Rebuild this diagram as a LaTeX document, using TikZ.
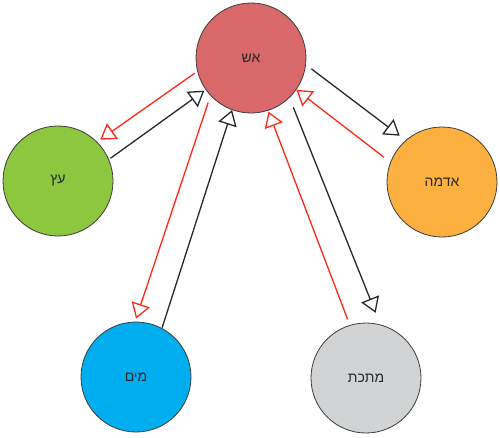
\documentclass[tikz,border=0pt]{standalone}
\usepackage{fontspec}
\TeXXeTstate=1
\newfontfamily\hebfont[Script=Hebrew]{Liberation Sans}
\usetikzlibrary{arrows.meta}
\definecolor{firec}{RGB}{217,104,107}
\definecolor{woodc}{RGB}{141,198,63}
\definecolor{earthc}{RGB}{251,176,64}
\definecolor{waterc}{RGB}{0,174,239}
\definecolor{metalc}{RGB}{209,211,212}
\definecolor{outl}{RGB}{60,60,60}
\definecolor{ctrlred}{RGB}{255,40,20}
\definecolor{gentxt}{RGB}{40,40,40}
\tikzset{
  elem/.style={circle, draw=outl, line width=0.8pt, minimum size=110pt, inner sep=0pt,
    font=\hebfont\fontsize{14}{16}\selectfont, text=gentxt},
  tipstyle/.style={-{Triangle[open, length=15pt, width=19pt, line width=1.3pt]}},
  genarrow/.style={tipstyle, draw=gentxt, line width=1.3pt},
  ctrlarrow/.style={tipstyle, draw=ctrlred, line width=1.3pt},
}
\begin{document}
\begin{tikzpicture}[x=1pt, y=-1pt]
\useasboundingbox (0,0) rectangle (500,437);
\node[elem, fill=firec]  (fire)  at (251,58)  {\beginR אש\endR};
\node[elem, fill=woodc]  (wood)  at (58,181)  {\beginR עץ\endR};
\node[elem, fill=earthc] (earth) at (442,182) {\beginR אדמה\endR};
\node[elem, fill=waterc] (water) at (136,377) {\beginR מים\endR};
\node[elem, fill=metalc] (metal) at (366,378) {\beginR מתכת\endR};

\draw[ctrlarrow, shorten <=3.2pt, shorten >=3.7pt] (fire.194) -- (wood.45);
\draw[genarrow, shorten <=1.9pt, shorten >=1.6pt] (wood.23.5) -- (fire.215.7);
\draw[genarrow, shorten <=6.7pt, shorten >=7.4pt] (fire.353.8) -- (earth.131);
\draw[ctrlarrow, shorten <=8.1pt] (earth.159.8) -- (fire.325.5);
\draw[ctrlarrow, shorten <=7.3pt, shorten >=3.2pt] (fire.223.8) -- (water.91.1);
\draw[genarrow, shorten <=0.5pt] (water.62) -- (fire.250.9);
\draw[genarrow, shorten <=10.2pt, shorten >=12.6pt] (fire.314) -- (metal.75.6);
\draw[ctrlarrow, shorten <=6pt, shorten >=1pt] (metal.107.9) -- (fire.288.7);
\end{tikzpicture}
\end{document}
